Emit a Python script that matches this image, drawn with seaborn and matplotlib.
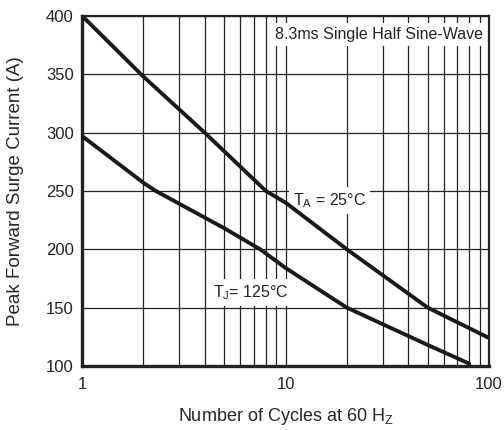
import numpy as np
import matplotlib
matplotlib.use('Agg')
import matplotlib.pyplot as plt
from matplotlib.ticker import FixedLocator, NullFormatter
import pandas as pd
import seaborn as sns

# =========================
# DATA
# =========================
cycles_25 = [1, 2, 4, 8, 10, 20, 50, 100]
current_25 = [400, 348, 300, 250, 240, 200, 150, 124]

cycles_125 = [1, 2, 2.3, 5, 7.5, 10, 20, 50, 80]
current_125 = [297, 257, 250, 218, 200, 184, 150, 118, 102]

x_ticks = [1, 10, 100]
y_ticks = [100, 150, 200, 250, 300, 350, 400]

df = pd.concat([
    pd.DataFrame({'cycles': cycles_25, 'current': current_25, 'curve': 'TA25'}),
    pd.DataFrame({'cycles': cycles_125, 'current': current_125, 'curve': 'TJ125'}),
])

# =========================
# PLOTTING SETUP
# =========================
sns.set_style('white')
plt.rcParams['font.family'] = ['Liberation Sans', 'DejaVu Sans']
plt.rcParams['mathtext.fontset'] = 'custom'
plt.rcParams['mathtext.rm'] = 'Liberation Sans'

fig = plt.figure(figsize=(5.04, 4.3), dpi=100)
ax = fig.add_axes([0.163, 0.149, 0.807, 0.814])

sns.lineplot(data=df, x='cycles', y='current', hue='curve',
             palette=['#1a1a1a', '#1a1a1a'], linewidth=2.8,
             legend=False, ax=ax, estimator=None, sort=False, zorder=3)

ax.set_xscale('log')
ax.set_xlim(1, 100)
ax.set_ylim(100, 400)

ax.xaxis.set_major_locator(FixedLocator(x_ticks))
ax.set_xticklabels([str(t) for t in x_ticks])
minor = [m * d for d in (1, 10) for m in range(2, 10)]
ax.xaxis.set_minor_locator(FixedLocator(minor))
ax.xaxis.set_minor_formatter(NullFormatter())
ax.set_yticks(y_ticks)

ax.grid(True, which='both', axis='x', color='#222222', linewidth=0.9)
ax.grid(True, which='major', axis='y', color='#222222', linewidth=0.9)
ax.tick_params(which='both', length=0, labelsize=12, colors='#222222')
ax.tick_params(axis='x', pad=8)
ax.tick_params(axis='y', pad=6)

for s in ax.spines.values():
    s.set_linewidth(1.6)
    s.set_color('#222222')
ax.spines['left'].set_linewidth(2.4)
ax.spines['bottom'].set_linewidth(2.4)

ax.set_xlabel(r'Number of Cycles at 60 H$_{\mathrm{Z}}$', fontsize=13, labelpad=10)
ax.set_ylabel('Peak Forward Surge Current (A)', fontsize=13.5, labelpad=16)

box = dict(facecolor='white', edgecolor='none', pad=3)
ax.text(0.985, 0.946, '8.3ms Single Half Sine-Wave', transform=ax.transAxes,
        ha='right', va='center', fontsize=11.5, bbox=box, color='#222222',
        zorder=2.5)
ax.text(10.9, 242, r'T$_{\mathrm{A}}$ = 25°C', ha='left', va='center',
        fontsize=11.5, bbox=box, color='#222222', zorder=2.5)
ax.text(4.4, 163, r'T$_{\mathrm{J}}$= 125°C', ha='left', va='center',
        fontsize=11.5, bbox=box, color='#222222', zorder=2.5)

fig.savefig('out.png', dpi=100)
